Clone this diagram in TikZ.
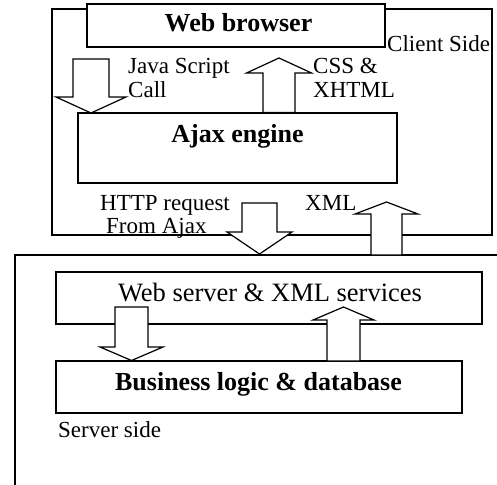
\documentclass[tikz,border=0pt]{standalone}
\usepackage{fontspec}
\setmainfont{Liberation Serif}
\newcommand\blkarrow[6]{% xc, ystart, ybase, ytip, shaft half width, head half width
  \draw[blk] ({#1-#5},#2) -- ({#1-#5},#3) -- ({#1-#6},#3) -- (#1,#4) -- ({#1+#6},#3) -- ({#1+#5},#3) -- ({#1+#5},#2) -- cycle;}
\begin{document}
\begin{tikzpicture}[x=1pt,y=-1pt,
  box/.style={draw,line width=1.2pt,fill=white,rectangle,inner sep=0pt},
  blk/.style={draw,line width=1.2pt,fill=white,line join=miter},
  small/.style={font=\fontsize{23}{27}\selectfont,inner sep=0pt},
  big/.style={font=\fontsize{26.5}{30}\selectfont,inner sep=0pt},
  bigb/.style={font=\fontsize{26}{30}\selectfont\bfseries,inner sep=0pt}]
\useasboundingbox (0,0) rectangle (497,484);
\fill[white] (0,0) rectangle (497,484);

% client side frame
\node[box, minimum width=440, minimum height=226] (client) at (272,122) {};
\node[box, minimum width=298, minimum height=43] (browser) at (236,25.5) {};
\node[bigb, anchor=base] (browsertxt) at (238.5,32) {Web browser};
\node[small, anchor=base west] (clientlbl) at (387,52) {Client Side};
\node[box, minimum width=319, minimum height=70] (ajax) at (237.5,148) {};
\node[bigb, anchor=base] (ajaxtxt) at (237.5,142) {Ajax engine};

% server side frame (clipped by the page)
\coordinate (srvtl) at (15,255);
\draw[line width=1.2pt] (15,495) -- (srvtl) -- (505,255);
\node[box, minimum width=426, minimum height=52] (websrv) at (269,298) {};
\node[big, anchor=base] (websrvtxt) at (270,301) {Web server \& XML services};
\node[box, minimum width=406, minimum height=52] (biz) at (259,387) {};
\node[bigb, anchor=base] (biztxt) at (258.5,390) {Business logic \& database};
\node[small, anchor=base west] (srvlbl) at (58,437) {Server side};

% labels
\node[small, anchor=base west] (js1) at (128,74) {Java Script};
\node[small, anchor=base west] (js2) at (128,97) {Call};
\node[small, anchor=base west] (css1) at (313,74) {CSS \&};
\node[small, anchor=base west] (css2) at (313,97) {XHTML};
\node[small, anchor=base west] (http1) at (100,210) {HTTP request};
\node[small, anchor=base west] (http2) at (106,233) {From Ajax};
\node[small, anchor=base west] (xml) at (305,210) {XML};

% block arrows
\blkarrow{91}{59}{97}{113}{18}{35}
\blkarrow{279}{112.5}{73}{58}{16}{32.5}
\blkarrow{259.5}{203}{232}{254}{17.5}{32.5}
\blkarrow{386.5}{255}{214}{202}{15.5}{31.5}
\blkarrow{131.5}{307}{347}{360.5}{16.5}{31.5}
\blkarrow{343.5}{361}{320}{307}{16.5}{30.5}
\end{tikzpicture}
\end{document}
